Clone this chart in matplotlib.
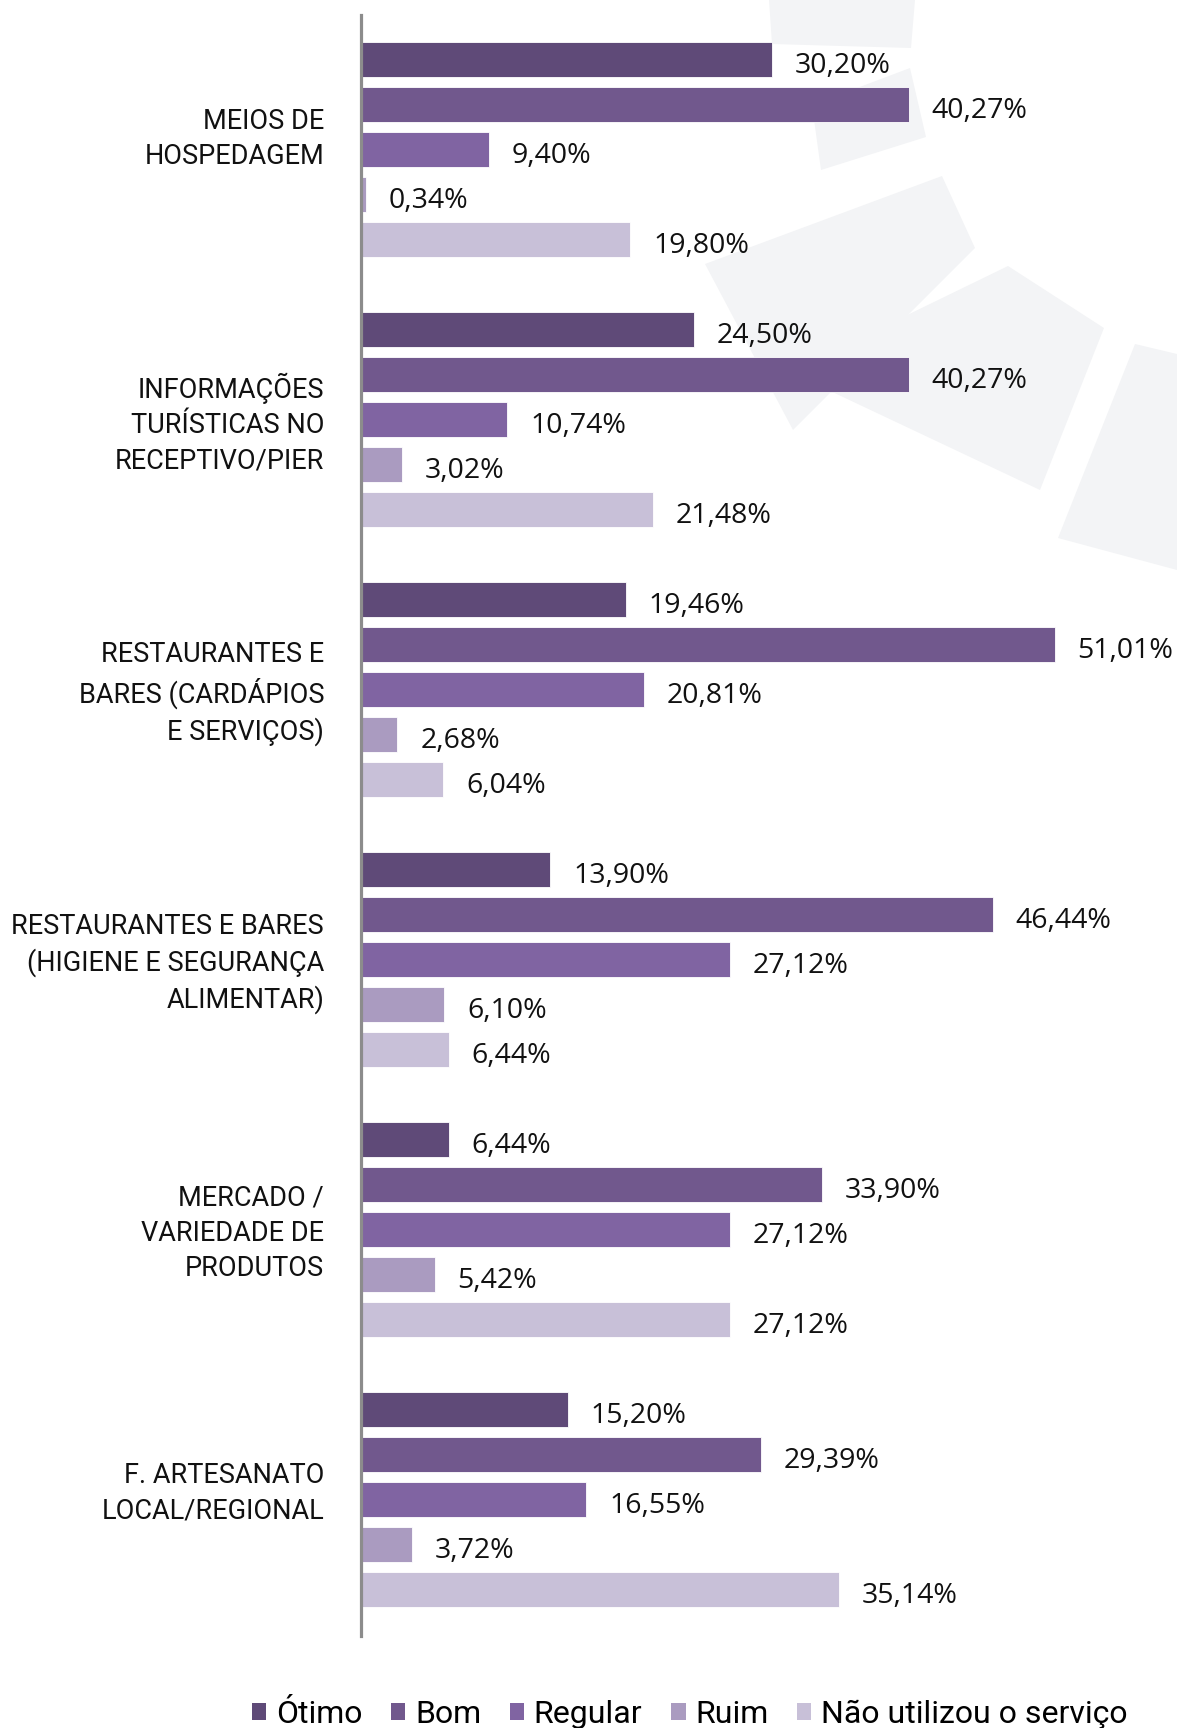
import matplotlib
matplotlib.use("Agg")
import matplotlib.pyplot as plt
from matplotlib.patches import Polygon, Patch
import numpy as np

categories = [
    "MEIOS DE\nHOSPEDAGEM",
    "INFORMAÇÕES\nTURÍSTICAS NO\nRECEPTIVO/PIER",
    "RESTAURANTES E\nBARES (CARDÁPIOS\nE SERVIÇOS)",
    "RESTAURANTES E BARES\n(HIGIENE E SEGURANÇA\nALIMENTAR)",
    "MERCADO /\nVARIEDADE DE\nPRODUTOS",
    "F. ARTESANATO\nLOCAL/REGIONAL",
]
series_names = ["Ótimo", "Bom", "Regular", "Ruim", "Não utilizou o serviço"]
otimo = [30.20, 24.50, 19.46, 13.90, 6.44, 15.20]
bom = [40.27, 40.27, 51.01, 46.44, 33.90, 29.39]
regular = [9.40, 10.74, 20.81, 27.12, 27.12, 16.55]
ruim = [0.34, 3.02, 2.68, 6.10, 5.42, 3.72]
nao_utilizou = [19.80, 21.48, 6.04, 6.44, 27.12, 35.14]
series = [otimo, bom, regular, ruim, nao_utilizou]
colors = ["#5f4a78", "#71588d", "#8064a2", "#aa9bc0", "#c8c0d8"]

W, H = 1177, 1728
fig = plt.figure(figsize=(W / 100, H / 100), dpi=100)

# background decorative shapes (figure pixel coords, y from top)
shapes = [
    [(769, 0), (915, 0), (911, 48), (772, 44)],
    [(812, 105), (910, 68), (926, 137), (821, 170)],
    [(705, 264), (942, 176), (975, 248), (793, 430)],
    [(790, 372), (1008, 266), (1104, 328), (1040, 490)],
    [(1135, 344), (1177, 354), (1177, 570), (1058, 538)],
]
for pts in shapes:
    poly = Polygon([(x / W, 1 - y / H) for x, y in pts], closed=True,
                   transform=fig.transFigure, facecolor="#f3f4f6",
                   edgecolor="none", zorder=0)
    fig.add_artist(poly)

ax_left, ax_right = 361, 1177
ax_top, ax_bot = 15, 1636
ax = fig.add_axes([ax_left / W, 1 - ax_bot / H, (ax_right - ax_left) / W,
                   (ax_bot - ax_top) / H])
ax.patch.set_alpha(0)

group_step = 6
n_cat = len(categories)
base = np.arange(n_cat) * group_step
for j, (vals, col) in enumerate(zip(series, colors)):
    ypos = base + j
    ax.barh(ypos, vals, height=0.79, color=col, edgecolor="white",
            linewidth=0.6, zorder=2)
    for y, v in zip(ypos, vals):
        ax.annotate(f"{v:.2f}%".replace(".", ","), (v, y),
                    xytext=(16.5, -4.5), textcoords="offset points",
                    ha="left", va="center", fontsize=20.5,
                    family="Open Sans", color="#111111")

ax.set_xlim(0, 60)
ax.set_ylim(35.03, -0.99)
ax.set_yticks([])
ax.set_xticks([])

# category labels, right-aligned left of the axis
for i, (yc, lab) in enumerate(zip(base + 2, categories)):
    nlines = lab.count("\n") + 1
    dy = (7.5 - 0.6 * i) if nlines == 2 else -2.8
    ax.annotate(lab, (0, yc), xycoords=("axes fraction", "data"),
                xytext=(-26.6, dy), textcoords="offset points",
                ha="right", va="center", multialignment="right",
                fontsize=19.5, family="Roboto", color="#111111",
                linespacing=1.39)

for s in ["top", "right", "bottom"]:
    ax.spines[s].set_visible(False)
ax.spines["left"].set_color("#8c8c8c")
ax.spines["left"].set_linewidth(2.3)
ax.spines["left"].set_zorder(3)

handles = [Patch(facecolor=c, edgecolor="none") for c in colors]
leg = fig.legend(handles, series_names, loc="center", ncol=5,
                 bbox_to_anchor=(0.586, 1 - 1714 / H), frameon=False,
                 prop={"family": "Roboto", "size": 23},
                 handlelength=0.45, handleheight=0.45, handletextpad=0.3,
                 columnspacing=0.9, borderpad=0)

fig.savefig("out.png", dpi=100)
